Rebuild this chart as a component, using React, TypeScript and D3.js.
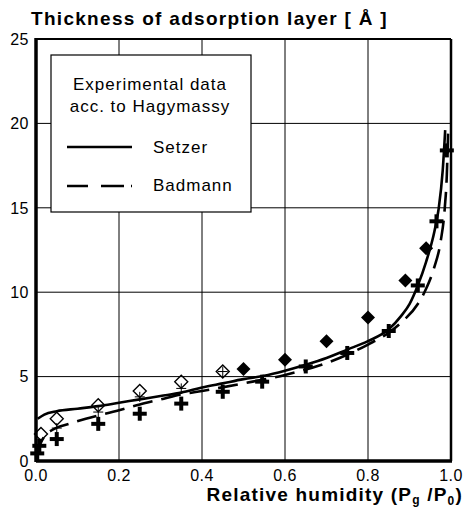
import React from "react";
import * as d3 from "d3";

// values
const xTicks = [0, 0.2, 0.4, 0.6, 0.8, 1.0];
const yTicks = [0, 5, 10, 15, 20, 25];

// Hagymassy data, open diamonds (low humidity)
const openDiamonds: [number, number][] = [
  [0.012, 1.6], [0.05, 2.5], [0.15, 3.3], [0.25, 4.15], [0.35, 4.7], [0.45, 5.3],
];
// filled diamonds (high humidity)
const filledDiamonds: [number, number][] = [
  [0.5, 5.45], [0.6, 6.0], [0.7, 7.1], [0.8, 8.5], [0.89, 10.7], [0.94, 12.6],
];
// bold crosses
const crosses: [number, number][] = [
  [0.003, 0.45], [0.008, 0.9], [0.05, 1.3], [0.15, 2.2], [0.25, 2.8], [0.35, 3.4],
  [0.45, 4.1], [0.545, 4.7], [0.65, 5.6], [0.75, 6.4], [0.85, 7.7], [0.92, 10.4],
  [0.965, 14.2], [0.99, 18.4],
];
// thin crosses under the open diamonds
const thinCrosses: [number, number][] = [
  [0.05, 1.95], [0.15, 2.9], [0.25, 3.8], [0.35, 4.3], [0.45, 5.3],
];

const setzer: [number, number][] = [
  [0.004, 2.5], [0.02, 2.75], [0.05, 2.95], [0.1, 3.1], [0.15, 3.25], [0.2, 3.45],
  [0.25, 3.65], [0.3, 3.85], [0.35, 4.05], [0.4, 4.35], [0.45, 4.6], [0.5, 4.85],
  [0.55, 5.05], [0.6, 5.35], [0.65, 5.7], [0.7, 6.1], [0.75, 6.6], [0.8, 7.1],
  [0.85, 7.8], [0.88, 8.6], [0.9, 9.3], [0.92, 10.4], [0.94, 11.8], [0.96, 13.6],
  [0.97, 14.9], [0.98, 17.2], [0.986, 19.6],
];
const badmann: [number, number][] = [
  [0.0, 0.3], [0.01, 1.0], [0.02, 1.45], [0.04, 1.85], [0.08, 2.2], [0.12, 2.5],
  [0.2, 3.0], [0.25, 3.35], [0.3, 3.65], [0.35, 3.95], [0.4, 4.15], [0.5, 4.6],
  [0.6, 5.1], [0.7, 5.8], [0.8, 6.9], [0.85, 7.6], [0.88, 8.2], [0.92, 9.3],
  [0.94, 10.2], [0.96, 11.5], [0.975, 13.0], [0.985, 15.0], [0.99, 17.0], [0.993, 19.5],
];

const W = 465;
const H = 514;
const font = "'Liberation Sans', Arial, Helvetica, sans-serif";

export default function App() {
  const x = d3.scaleLinear().domain([0, 1]).range([36, 451]);
  const y = d3.scaleLinear().domain([0, 25]).range([461, 39]);

  const line = d3
    .line<[number, number]>()
    .x((d) => x(d[0]))
    .y((d) => y(d[1]))
    .curve(d3.curveMonotoneX);

  const diamond = (cx: number, cy: number, r: number) =>
    `M${cx},${cy - r}L${cx + r},${cy}L${cx},${cy + r}L${cx - r},${cy}Z`;

  return (
    <svg width={W} height={H} style={{ position: "absolute", left: 0, top: 0 }} fontFamily={font}>
      <rect width={W} height={H} fill="#fff" />

      {/* grid */}
      {xTicks.slice(1, -1).map((t) => (
        <line key={"gx" + t} x1={x(t)} x2={x(t)} y1={y(25)} y2={y(0)} stroke="#000" strokeWidth={1} />
      ))}
      {yTicks.slice(1, -1).map((t) => (
        <line key={"gy" + t} x1={x(0)} x2={x(1)} y1={y(t)} y2={y(t)} stroke="#000" strokeWidth={1} />
      ))}

      {/* curves */}
      <path d={line(setzer) ?? ""} fill="none" stroke="#000" strokeWidth={2.6} />
      <path d={line(badmann) ?? ""} fill="none" stroke="#000" strokeWidth={2.6} strokeDasharray="20 9" />

      {/* markers */}
      {thinCrosses.map((d, i) => (
        <g key={"tc" + i} stroke="#000" strokeWidth={1}>
          <line x1={x(d[0]) - 5} x2={x(d[0]) + 5} y1={y(d[1])} y2={y(d[1])} />
          <line x1={x(d[0])} x2={x(d[0])} y1={y(d[1]) - 5} y2={y(d[1]) + 5} />
        </g>
      ))}
      {openDiamonds.map((d, i) => (
        <path key={"od" + i} d={diamond(x(d[0]), y(d[1]), 6.5)} fill="none" stroke="#000" strokeWidth={1.4} />
      ))}
      {filledDiamonds.map((d, i) => (
        <path key={"fd" + i} d={diamond(x(d[0]), y(d[1]), 7)} fill="#000" />
      ))}
      {crosses.map((d, i) => (
        <g key={"c" + i} stroke="#000" strokeWidth={4}>
          <line x1={x(d[0]) - 7} x2={x(d[0]) + 7} y1={y(d[1])} y2={y(d[1])} />
          <line x1={x(d[0])} x2={x(d[0])} y1={y(d[1]) - 7} y2={y(d[1]) + 7} />
        </g>
      ))}

      {/* frame */}
      <line x1={x(0)} x2={x(1)} y1={y(25)} y2={y(25)} stroke="#000" strokeWidth={2} />
      <line x1={x(1)} x2={x(1)} y1={y(25)} y2={y(0)} stroke="#000" strokeWidth={2.5} />
      <line x1={x(0)} x2={x(1) + 1} y1={y(0)} y2={y(0)} stroke="#000" strokeWidth={3.5} />
      <line x1={x(0)} x2={x(0)} y1={y(25) - 1} y2={y(0) + 1} stroke="#000" strokeWidth={3.5} />

      {/* tick labels */}
      {yTicks.map((t) => (
        <text key={"ty" + t} x={29} y={y(t)} dy="0.36em" textAnchor="end" fontSize={16} letterSpacing={0.5}>
          {t}
        </text>
      ))}
      {xTicks.map((t) => (
        <text key={"tx" + t} x={x(t)} y={481} textAnchor="middle" fontSize={16} letterSpacing={0.5}>
          {t.toFixed(1)}
        </text>
      ))}

      {/* titles */}
      <text x={31} y={25} fontSize={19} fontWeight="bold" letterSpacing={1.3}>
        Thickness of adsorption layer [ Å ]
      </text>
      <text x={463} y={501} fontSize={19} fontWeight="bold" textAnchor="end" letterSpacing={1.2}>
        Relative humidity (P<tspan fontSize={12} dy={3}>g</tspan>
        <tspan dy={-3}> /P</tspan>
        <tspan fontSize={12} dy={4}>0</tspan>
        <tspan dy={-4}>)</tspan>
      </text>

      {/* legend */}
      <rect x={51} y={55} width={200} height={157} fill="#fff" stroke="#000" strokeWidth={1.2} />
      <text x={150} y={90} textAnchor="middle" fontSize={17} letterSpacing={1}>
        Experimental data
      </text>
      <text x={150} y={112} textAnchor="middle" fontSize={17} letterSpacing={1}>
        acc. to Hagymassy
      </text>
      <line x1={67} x2={132} y1={147} y2={147} stroke="#000" strokeWidth={2.6} />
      <text x={153} y={153} fontSize={17} letterSpacing={1}>
        Setzer
      </text>
      <line x1={67} x2={132} y1={186} y2={186} stroke="#000" strokeWidth={2.6} strokeDasharray="21 13 23 7 2 40" />
      <text x={153} y={191} fontSize={17} letterSpacing={1}>
        Badmann
      </text>
    </svg>
  );
}
